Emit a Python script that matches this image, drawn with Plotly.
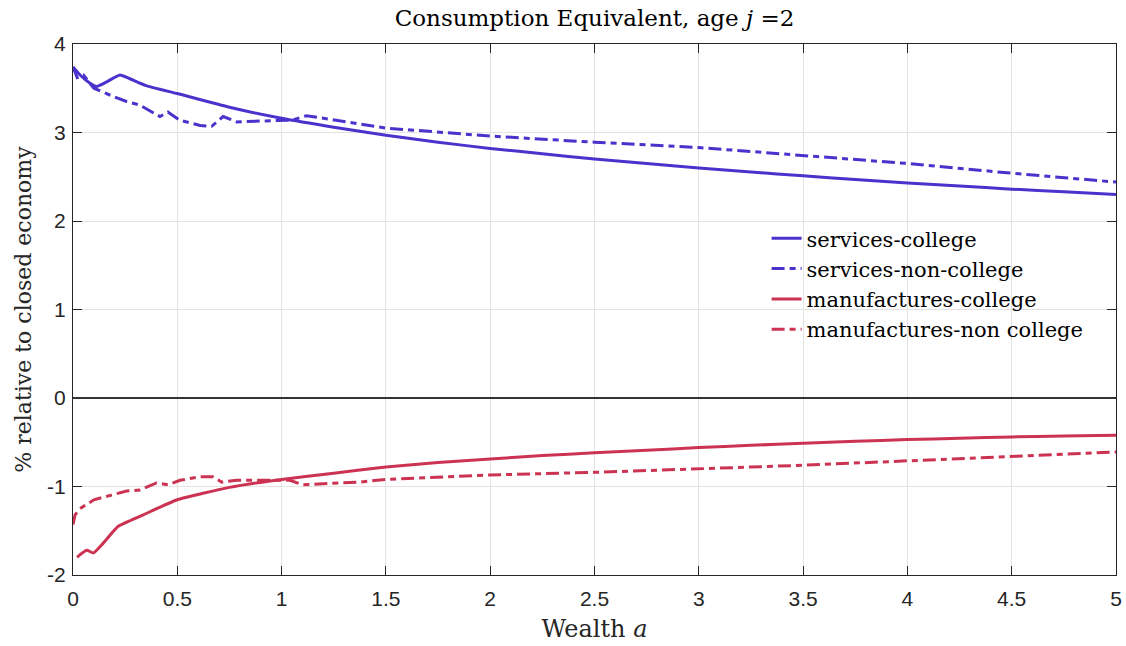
import plotly.graph_objects as go

# Wealth grid and series
x_sc = [0, 0.034, 0.08, 0.113, 0.16, 0.225, 0.27, 0.35, 0.5, 0.75, 1.0, 1.25, 1.5, 1.75, 2.0, 2.25, 2.5, 2.75, 3.0, 3.25, 3.5, 3.75, 4.0, 4.25, 4.5, 4.75, 5.0]
y_sc = [3.74, 3.65, 3.56, 3.52, 3.57, 3.65, 3.61, 3.53, 3.44, 3.285, 3.16, 3.06, 2.97, 2.89, 2.82, 2.76, 2.70, 2.65, 2.60, 2.555, 2.51, 2.47, 2.43, 2.395, 2.36, 2.33, 2.30]

x_snc = [0, 0.02, 0.05, 0.1, 0.2, 0.257, 0.32, 0.417, 0.455, 0.51, 0.61, 0.665, 0.72, 0.785, 0.9, 1.05, 1.12, 1.375, 1.5, 2.0, 2.5, 3.0, 3.5, 4.0, 4.5, 5.0]
y_snc = [3.74, 3.62, 3.65, 3.50, 3.40, 3.35, 3.31, 3.18, 3.23, 3.14, 3.08, 3.07, 3.18, 3.12, 3.13, 3.14, 3.19, 3.10, 3.05, 2.96, 2.89, 2.83, 2.74, 2.65, 2.54, 2.44]

x_mc = [0.02, 0.034, 0.066, 0.098, 0.145, 0.217, 0.337, 0.5, 0.75, 1.0, 1.25, 1.5, 1.75, 2.0, 2.25, 2.5, 2.75, 3.0, 3.25, 3.5, 3.75, 4.0, 4.25, 4.5, 4.75, 5.0]
y_mc = [-1.80, -1.77, -1.72, -1.75, -1.64, -1.45, -1.32, -1.15, -1.01, -0.92, -0.85, -0.78, -0.73, -0.69, -0.65, -0.62, -0.59, -0.56, -0.535, -0.51, -0.49, -0.47, -0.455, -0.44, -0.43, -0.42]

x_mnc = [0, 0.01, 0.034, 0.1, 0.18, 0.257, 0.32, 0.4, 0.457, 0.513, 0.61, 0.67, 0.713, 0.785, 0.9, 1.04, 1.1, 1.22, 1.375, 1.5, 2.0, 2.5, 3.0, 3.5, 4.0, 4.5, 5.0]
y_mnc = [-1.43, -1.32, -1.25, -1.15, -1.10, -1.05, -1.04, -0.96, -0.98, -0.93, -0.89, -0.89, -0.95, -0.93, -0.93, -0.93, -0.98, -0.97, -0.95, -0.92, -0.87, -0.84, -0.80, -0.76, -0.71, -0.66, -0.61]

names = ["services-college", "services-non-college", "manufactures-college", "manufactures-non college"]
x_ticks = [0, 0.5, 1, 1.5, 2, 2.5, 3, 3.5, 4, 4.5, 5]
x_tick_labels = ["0", "0.5", "1", "1.5", "2", "2.5", "3", "3.5", "4", "4.5", "5"]
y_ticks = [-2, -1, 0, 1, 2, 3, 4]
y_tick_labels = ["-2", "-1", "0", "1", "2", "3", "4"]

BLUE = "#4A33CC"
RED = "#CC3352"
SERIF = "DejaVu Serif, serif"
SANS = "Liberation Sans, Arial, sans-serif"
DASHDOT = "13px,5px,6px,5px"

fig = go.Figure()
fig.add_trace(go.Scatter(x=x_sc, y=y_sc, name=names[0], mode="lines",
                         line=dict(color=BLUE, width=3, shape="spline", smoothing=0.5)))
fig.add_trace(go.Scatter(x=x_snc, y=y_snc, name=names[1], mode="lines",
                         line=dict(color=BLUE, width=3, dash=DASHDOT)))
fig.add_trace(go.Scatter(x=x_mc, y=y_mc, name=names[2], mode="lines",
                         line=dict(color=RED, width=3, shape="spline", smoothing=0.5)))
fig.add_trace(go.Scatter(x=x_mnc, y=y_mnc, name=names[3], mode="lines",
                         line=dict(color=RED, width=3, dash=DASHDOT)))

fig.add_shape(type="line", xref="x", yref="y", x0=0, x1=5, y0=0, y1=0,
              line=dict(color="#333333", width=2))

axis_common = dict(showgrid=True, gridcolor="#E3E3E3", gridwidth=1,
                   showline=True, linecolor="#262626", linewidth=1, mirror="ticks",
                   ticks="inside", ticklen=9, tickcolor="#262626",
                   zeroline=False, automargin=False,
                   tickfont=dict(family=SANS, size=21, color="#262626"))

fig.update_xaxes(range=[0, 5], tickvals=x_ticks, ticktext=x_tick_labels, ticklabelstandoff=5,
                 title=dict(text="Wealth <i>a</i>", font=dict(family=SERIF, size=24, color="#262626"), standoff=10),
                 **axis_common)
fig.update_yaxes(range=[-2, 4], tickvals=y_ticks, ticktext=y_tick_labels, ticklabelstandoff=2,
                 title=dict(text="% relative to closed economy", font=dict(family=SERIF, size=22, color="#262626"), standoff=9),
                 **axis_common)

fig.update_layout(
    width=1126, height=646,
    margin=dict(l=73, r=10, t=44, b=71),
    paper_bgcolor="white", plot_bgcolor="white",
    title=dict(text="Consumption Equivalent, age <i>j</i> =2", xref="paper", x=0.5, xanchor="center",
               y=0.972, yanchor="middle", font=dict(family=SERIF, size=23, color="#000000")),
    legend=dict(x=0.665, y=0.672, xanchor="left", yanchor="top",
                bgcolor="rgba(255,255,255,0)", font=dict(family=SERIF, size=21, color="#000000"),
                tracegroupgap=0, itemwidth=30),
    showlegend=True,
)

fig.write_html("out.html", config={"displayModeBar": False},
               post_script="document.body.style.margin='0';document.body.style.overflow='hidden';")
